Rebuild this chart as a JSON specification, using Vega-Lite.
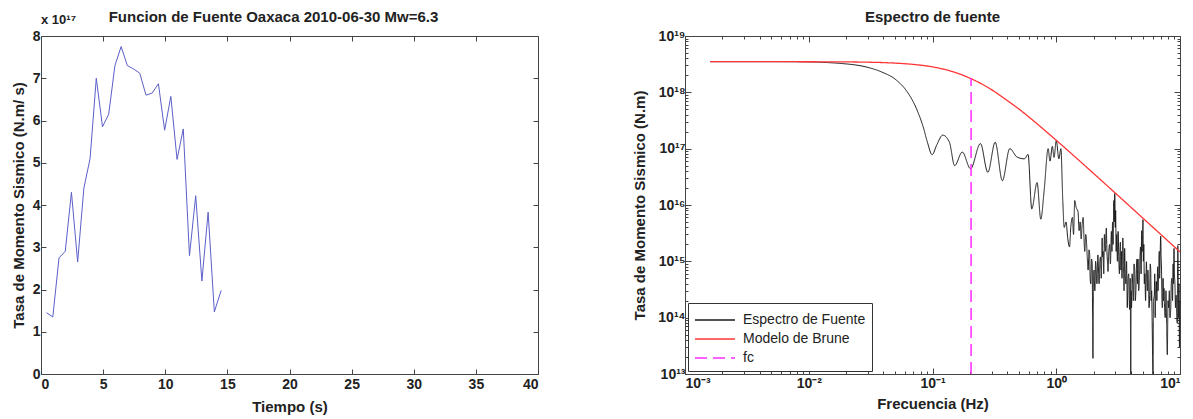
{
  "$schema": "https://vega.github.io/schema/vega-lite/v6.json",
  "background": "white",
  "padding": {"left": 10, "top": 9, "right": 8, "bottom": 0},
  "spacing": 93,
  "resolve": {"scale": {"color": "independent", "strokeDash": "independent"}, "legend": {"color": "independent", "strokeDash": "independent"}},
  "config": {
    "font": "Liberation Sans",
    "view": {"stroke": "#444", "strokeWidth": 1},
    "axis": {
      "labelFont": "Liberation Sans", "labelFontSize": 14, "labelFontWeight": "bold", "labelColor": "#222",
      "titleFont": "Liberation Sans", "titleFontSize": 15, "titleFontWeight": "bold", "titleColor": "#222",
      "domainColor": "#444", "tickColor": "#444", "tickSize": -5, "grid": false, "labelPadding": 8
    },
    "title": {"font": "Liberation Sans", "fontSize": 15, "fontWeight": "bold", "color": "#222", "offset": 0}
  },
  "datasets": {
    "stf": [
      {"t": 0.45, "v": 1.45e17}, {"t": 0.95, "v": 1.35e17}, {"t": 1.45, "v": 2.75e17}, {"t": 1.95, "v": 2.9e17},
      {"t": 2.45, "v": 4.3e17}, {"t": 2.95, "v": 2.65e17}, {"t": 3.45, "v": 4.4e17}, {"t": 3.95, "v": 5.1e17},
      {"t": 4.45, "v": 7.0e17}, {"t": 4.95, "v": 5.85e17}, {"t": 5.45, "v": 6.15e17}, {"t": 5.95, "v": 7.3e17},
      {"t": 6.45, "v": 7.75e17}, {"t": 6.95, "v": 7.3e17}, {"t": 7.45, "v": 7.22e17}, {"t": 7.95, "v": 7.12e17},
      {"t": 8.45, "v": 6.6e17}, {"t": 8.95, "v": 6.65e17}, {"t": 9.45, "v": 6.87e17}, {"t": 9.95, "v": 5.77e17},
      {"t": 10.45, "v": 6.57e17}, {"t": 10.95, "v": 5.08e17}, {"t": 11.45, "v": 5.8e17}, {"t": 11.95, "v": 2.8e17},
      {"t": 12.45, "v": 4.22e17}, {"t": 12.95, "v": 2.2e17}, {"t": 13.45, "v": 3.83e17}, {"t": 13.95, "v": 1.47e17},
      {"t": 14.5, "v": 1.98e17}
    ],
    "spec": [
      {"f": 0.0016, "A": 3.5e18}, {"f": 0.003, "A": 3.5e18}, {"f": 0.005, "A": 3.5e18}, {"f": 0.0087, "A": 3.48e18},
      {"f": 0.0183, "A": 3.25e18}, {"f": 0.0295, "A": 2.8e18}, {"f": 0.0388, "A": 2.3e18}, {"f": 0.051, "A": 1.65e18},
      {"f": 0.0625, "A": 1.02e18}, {"f": 0.074, "A": 5.2e17}, {"f": 0.085, "A": 2.25e17}, {"f": 0.091, "A": 1.3e17},
      {"f": 0.0994, "A": 7.8e16}, {"f": 0.108, "A": 1.15e17}, {"f": 0.121, "A": 1.74e17}, {"f": 0.137, "A": 1.3e17},
      {"f": 0.151, "A": 5.0e16}, {"f": 0.174, "A": 8.7e16}, {"f": 0.203, "A": 4.4e16}, {"f": 0.244, "A": 1.23e17},
      {"f": 0.28, "A": 3.8e16}, {"f": 0.321, "A": 1.3e17}, {"f": 0.367, "A": 2.7e16}, {"f": 0.421, "A": 1.0e17},
      {"f": 0.482, "A": 7.1e16}, {"f": 0.553, "A": 6.6e16}, {"f": 0.592, "A": 7.9e16}, {"f": 0.634, "A": 8.5e15},
      {"f": 0.70, "A": 2.5e16}, {"f": 0.75, "A": 5.6e15}, {"f": 0.80, "A": 1.9e16}, {"f": 0.86, "A": 1.0e17},
      {"f": 0.89, "A": 6e16}, {"f": 0.93, "A": 1.1e17}, {"f": 0.96, "A": 7e16}, {"f": 1.0, "A": 1.4e17},
      {"f": 1.05, "A": 6.6e16}, {"f": 1.09, "A": 1.0e17}, {"f": 1.13, "A": 1.15e16}, {"f": 1.16, "A": 4e15},
      {"f": 1.2, "A": 5e15}, {"f": 1.24, "A": 2.5e15}, {"f": 1.28, "A": 1.8e15}, {"f": 1.31, "A": 4e15},
      {"f": 1.35, "A": 6e15}, {"f": 1.38, "A": 3e15}, {"f": 1.41, "A": 1.2e16}, {"f": 1.45, "A": 9e15},
      {"f": 1.5, "A": 7.6e15}, {"f": 1.53, "A": 3.5e15}, {"f": 1.56, "A": 5e15}, {"f": 1.59, "A": 2.5e15},
      {"f": 1.62, "A": 4.5e15}, {"f": 1.65, "A": 6e15}, {"f": 1.68, "A": 2.2e15}, {"f": 1.70, "A": 1.5e15},
      {"f": 1.73, "A": 3e15}, {"f": 1.75, "A": 2.5e15}, {"f": 1.78, "A": 1.2e15}, {"f": 1.81, "A": 7e14},
      {"f": 1.84, "A": 1.6e15}, {"f": 1.86, "A": 1.4e15}, {"f": 1.88, "A": 5e14}, {"f": 1.9, "A": 4e14},
      {"f": 1.93, "A": 1.1e15}, {"f": 1.95, "A": 9e14}, {"f": 1.98, "A": 1.9e13}, {"f": 2.0, "A": 5e14},
      {"f": 2.02, "A": 7e14}, {"f": 2.05, "A": 3e14}, {"f": 2.08, "A": 1e15}, {"f": 2.1, "A": 8e14},
      {"f": 2.13, "A": 4e14}, {"f": 2.17, "A": 1.3e15}, {"f": 2.2, "A": 6e14}, {"f": 2.22, "A": 4e14},
      {"f": 2.25, "A": 1e15}, {"f": 2.28, "A": 1.2e15}, {"f": 2.31, "A": 5e14}, {"f": 2.35, "A": 2.6e15},
      {"f": 2.37, "A": 1.2e15}, {"f": 2.39, "A": 1.5e15}, {"f": 2.42, "A": 6e14}, {"f": 2.45, "A": 3.0e15},
      {"f": 2.49, "A": 1.5e15}, {"f": 2.54, "A": 3.9e15}, {"f": 2.56, "A": 2e15}, {"f": 2.58, "A": 1.2e15},
      {"f": 2.6, "A": 9e14}, {"f": 2.62, "A": 6.6e14}, {"f": 2.66, "A": 1.5e15}, {"f": 2.7, "A": 2.0e15},
      {"f": 2.74, "A": 9e14}, {"f": 2.79, "A": 3.4e15}, {"f": 2.82, "A": 1.5e15}, {"f": 2.85, "A": 5e15},
      {"f": 2.88, "A": 2e15}, {"f": 2.92, "A": 1.2e16}, {"f": 2.95, "A": 5e15}, {"f": 2.97, "A": 1.6e16},
      {"f": 3.0, "A": 4e15}, {"f": 3.02, "A": 8e15}, {"f": 3.05, "A": 1.5e15}, {"f": 3.08, "A": 3e15},
      {"f": 3.12, "A": 1e15}, {"f": 3.16, "A": 3.4e15}, {"f": 3.2, "A": 1.2e15}, {"f": 3.24, "A": 6e14},
      {"f": 3.27, "A": 1.5e15}, {"f": 3.3, "A": 2.2e15}, {"f": 3.33, "A": 7e14}, {"f": 3.36, "A": 1.5e15},
      {"f": 3.4, "A": 5e14}, {"f": 3.45, "A": 2.6e15}, {"f": 3.5, "A": 8e14}, {"f": 3.53, "A": 3e14},
      {"f": 3.57, "A": 1.7e15}, {"f": 3.61, "A": 6e14}, {"f": 3.65, "A": 4e14}, {"f": 3.7, "A": 1e15},
      {"f": 3.75, "A": 1.5e14}, {"f": 3.8, "A": 5e14}, {"f": 3.85, "A": 6e14}, {"f": 3.88, "A": 2.5e14},
      {"f": 3.92, "A": 1.4e14}, {"f": 3.96, "A": 5e14}, {"f": 4.0, "A": 1.0e13}, {"f": 4.03, "A": 3e14},
      {"f": 4.06, "A": 1.5e14}, {"f": 4.1, "A": 6e14}, {"f": 4.15, "A": 4e14}, {"f": 4.2, "A": 2e14},
      {"f": 4.25, "A": 9e14}, {"f": 4.3, "A": 7.4e14}, {"f": 4.35, "A": 2e14}, {"f": 4.4, "A": 3e14},
      {"f": 4.45, "A": 8e14}, {"f": 4.5, "A": 1.1e15}, {"f": 4.54, "A": 4e14}, {"f": 4.58, "A": 1.1e15},
      {"f": 4.63, "A": 3e14}, {"f": 4.7, "A": 5e14}, {"f": 4.75, "A": 1.2e15}, {"f": 4.8, "A": 1.8e15},
      {"f": 4.85, "A": 6e14}, {"f": 4.9, "A": 3.5e15}, {"f": 4.95, "A": 1.5e15}, {"f": 5.02, "A": 5.5e15},
      {"f": 5.06, "A": 1e15}, {"f": 5.1, "A": 2e15}, {"f": 5.15, "A": 4e14}, {"f": 5.2, "A": 6e14},
      {"f": 5.27, "A": 2e14}, {"f": 5.35, "A": 9.8e14}, {"f": 5.4, "A": 5e14}, {"f": 5.45, "A": 3e14},
      {"f": 5.5, "A": 7e14}, {"f": 5.55, "A": 5e14}, {"f": 5.62, "A": 1.5e14}, {"f": 5.69, "A": 2.5e14},
      {"f": 5.75, "A": 9e14}, {"f": 5.8, "A": 7e14}, {"f": 5.85, "A": 2e14}, {"f": 5.9, "A": 3e14},
      {"f": 5.95, "A": 1e14}, {"f": 6.05, "A": 1.0e13}, {"f": 6.1, "A": 2e14}, {"f": 6.2, "A": 2.5e14},
      {"f": 6.25, "A": 6e14}, {"f": 6.3, "A": 1e14}, {"f": 6.37, "A": 3e14}, {"f": 6.44, "A": 4.4e14},
      {"f": 6.5, "A": 2e14}, {"f": 6.6, "A": 8e14}, {"f": 6.65, "A": 3e14}, {"f": 6.72, "A": 6e14},
      {"f": 6.8, "A": 1.5e15}, {"f": 6.85, "A": 5e14}, {"f": 6.9, "A": 1e15}, {"f": 6.98, "A": 2.8e15},
      {"f": 7.04, "A": 1.2e15}, {"f": 7.1, "A": 6e14}, {"f": 7.15, "A": 2e14}, {"f": 7.2, "A": 1.5e14},
      {"f": 7.3, "A": 5e14}, {"f": 7.36, "A": 2e14}, {"f": 7.43, "A": 3.3e14}, {"f": 7.5, "A": 1.5e14},
      {"f": 7.6, "A": 1e14}, {"f": 7.7, "A": 3e14}, {"f": 7.8, "A": 8e13}, {"f": 7.9, "A": 2.2e13},
      {"f": 8.0, "A": 2e14}, {"f": 8.1, "A": 1.5e14}, {"f": 8.2, "A": 3e14}, {"f": 8.3, "A": 1e14},
      {"f": 8.41, "A": 1.4e14}, {"f": 8.5, "A": 4e14}, {"f": 8.6, "A": 5e14}, {"f": 8.7, "A": 2e14},
      {"f": 8.8, "A": 9e14}, {"f": 8.87, "A": 4e14}, {"f": 8.95, "A": 1.7e15}, {"f": 9.02, "A": 6e14},
      {"f": 9.1, "A": 4e14}, {"f": 9.2, "A": 1.5e14}, {"f": 9.3, "A": 2.5e14}, {"f": 9.4, "A": 1.2e14},
      {"f": 9.5, "A": 8e13}, {"f": 9.55, "A": 5e14}, {"f": 9.6, "A": 1.9e15}, {"f": 9.68, "A": 5e14},
      {"f": 9.75, "A": 1e14}, {"f": 9.82, "A": 4e14}, {"f": 9.9, "A": 3e13}, {"f": 9.95, "A": 1.5e14},
      {"f": 10, "A": 2e14}
    ],
    "brune": [
      {"f": 0.0016, "A": 3.5e18}, {"f": 0.005, "A": 3.5e18}, {"f": 0.01, "A": 3.49e18}, {"f": 0.02, "A": 3.467e18},
      {"f": 0.03, "A": 3.43e18}, {"f": 0.05, "A": 3.3e18}, {"f": 0.07, "A": 3.13e18}, {"f": 0.1, "A": 2.83e18},
      {"f": 0.15, "A": 2.28e18}, {"f": 0.2, "A": 1.79e18}, {"f": 0.3, "A": 1.115e18}, {"f": 0.4, "A": 7.2e17},
      {"f": 0.5, "A": 5.04e17}, {"f": 0.7, "A": 2.76e17}, {"f": 1.0, "A": 1.41e17}, {"f": 1.5, "A": 6.42e16},
      {"f": 2.0, "A": 3.64e16}, {"f": 3.0, "A": 1.63e16}, {"f": 5.0, "A": 5.87e15}, {"f": 7.0, "A": 3.0e15},
      {"f": 10.0, "A": 1.47e15}
    ],
    "fc": [{"f": 0.205, "A": 1e13, "A2": 1.8e18}]
  },
  "hconcat": [
    {
      "width": 497,
      "height": 338,
      "title": {"text": "Funcion de Fuente Oaxaca 2010-06-30 Mw=6.3", "dx": -16, "offset": -11},
      "data": {"name": "stf"},
      "layer": [
        {
          "mark": {"type": "line", "color": "#5b5fc8", "strokeWidth": 1},
          "encoding": {
            "x": {"field": "t", "type": "quantitative", "scale": {"domain": [0, 40], "nice": false},
                  "axis": {"title": "Tiempo (s)", "values": [0, 5, 10, 15, 20, 25, 30, 35, 40], "titlePadding": 8}},
            "y": {"field": "v", "type": "quantitative", "scale": {"domain": [0, 8e17], "nice": false},
                  "axis": {"title": "Tasa de Momento Sismico (N.m/ s)", "values": [0, 1e17, 2e17, 3e17, 4e17, 5e17, 6e17, 7e17, 8e17],
                           "labelExpr": "format(datum.value / 1e17, 'd')", "titlePadding": 6, "labelPadding": 6}}
          }
        },
        {
          "mark": {"type": "line", "opacity": 0},
          "encoding": {
            "x": {"field": "t", "type": "quantitative", "scale": {"domain": [0, 40], "nice": false},
                  "axis": {"orient": "top", "title": null, "labels": false, "domain": false, "values": [0, 5, 10, 15, 20, 25, 30, 35, 40]}},
            "y": {"field": "v", "type": "quantitative", "scale": {"domain": [0, 8e17], "nice": false},
                  "axis": {"orient": "right", "title": null, "labels": false, "domain": false, "values": [0, 1e17, 2e17, 3e17, 4e17, 5e17, 6e17, 7e17, 8e17]}}
          }
        },
        {
          "data": {"values": [{"label": "x 10¹⁷"}]},
          "mark": {"type": "text", "align": "left", "baseline": "bottom", "dy": -9, "fontSize": 13, "fontWeight": "bold", "color": "#222", "font": "Liberation Sans"},
          "encoding": {
            "x": {"datum": 0, "type": "quantitative", "scale": {"domain": [0, 40], "nice": false}, "axis": null},
            "y": {"datum": 8e17, "type": "quantitative", "scale": {"domain": [0, 8e17], "nice": false}, "axis": null},
            "text": {"field": "label"}
          }
        }
      ],
      "resolve": {"axis": {"x": "independent", "y": "independent"}}
    },
    {
      "width": 495,
      "height": 338,
      "title": {"text": "Espectro de fuente", "offset": 4},
      "layer": [
        {
          "encoding": {
            "x": {"field": "f", "type": "quantitative",
                  "scale": {"type": "log", "domain": [0.001, 10], "nice": false},
                  "axis": {"title": "Frecuencia (Hz)", "titlePadding": 6,
                           "values": [0.001, 0.002, 0.003, 0.004, 0.005, 0.006, 0.007, 0.008, 0.009, 0.01, 0.02, 0.03, 0.04, 0.05, 0.06, 0.07, 0.08, 0.09, 0.1, 0.2, 0.3, 0.4, 0.5, 0.6, 0.7, 0.8, 0.9, 1, 2, 3, 4, 5, 6, 7, 8, 9, 10],
                           "labelExpr": "datum.value == 0.001 ? '10⁻³' : datum.value == 0.01 ? '10⁻²' : datum.value == 0.1 ? '10⁻¹' : datum.value == 1 ? '10⁰' : datum.value == 10 ? '10¹' : ''",
                           "tickSize": {"condition": {"test": "indexof([0.001,0.01,0.1,1,10], datum.value) >= 0", "value": -6}, "value": -3}}},
            "y": {"field": "A", "type": "quantitative",
                  "scale": {"type": "log", "domain": [1e13, 1e19], "nice": false},
                  "axis": {"title": "Tasa de Momento Sismico (N.m)", "titlePadding": 10, "labelPadding": 6,
                           "values": [1e13, 2e13, 3e13, 4e13, 5e13, 6e13, 7e13, 8e13, 9e13, 1e14, 2e14, 3e14, 4e14, 5e14, 6e14, 7e14, 8e14, 9e14, 1e15, 2e15, 3e15, 4e15, 5e15, 6e15, 7e15, 8e15, 9e15, 1e16, 2e16, 3e16, 4e16, 5e16, 6e16, 7e16, 8e16, 9e16, 1e17, 2e17, 3e17, 4e17, 5e17, 6e17, 7e17, 8e17, 9e17, 1e18, 2e18, 3e18, 4e18, 5e18, 6e18, 7e18, 8e18, 9e18, 1e19],
                           "labelExpr": "datum.value == 1e13 ? '10¹³' : datum.value == 1e14 ? '10¹⁴' : datum.value == 1e15 ? '10¹⁵' : datum.value == 1e16 ? '10¹⁶' : datum.value == 1e17 ? '10¹⁷' : datum.value == 1e18 ? '10¹⁸' : datum.value == 1e19 ? '10¹⁹' : ''",
                           "tickSize": {"condition": {"test": "indexof([1e13,1e14,1e15,1e16,1e17,1e18,1e19], datum.value) >= 0", "value": -6}, "value": -3}}}
          },
          "layer": [
            {
              "data": {"name": "spec"},
              "transform": [{"calculate": "'Espectro de Fuente'", "as": "serie"}],
              "mark": {"type": "line", "strokeWidth": 1, "interpolate": "monotone"},
              "encoding": {
                "color": {"field": "serie", "type": "nominal"},
                "strokeDash": {"field": "serie", "type": "nominal"}
              }
            },
            {
              "data": {"name": "brune"},
              "transform": [{"calculate": "'Modelo de Brune'", "as": "serie"}],
              "mark": {"type": "line", "strokeWidth": 1.3, "interpolate": "monotone"},
              "encoding": {
                "color": {"field": "serie", "type": "nominal"},
                "strokeDash": {"field": "serie", "type": "nominal"}
              }
            },
            {
              "data": {"name": "fc"},
              "transform": [{"calculate": "'fc'", "as": "serie"}],
              "mark": {"type": "rule", "strokeWidth": 1.5},
              "encoding": {
                "y2": {"field": "A2"},
                "color": {"field": "serie", "type": "nominal",
                          "scale": {"domain": ["Espectro de Fuente", "Modelo de Brune", "fc"], "range": ["#1a1a1a", "#ff3535", "#ff2cff"]},
                          "legend": {"title": null, "orient": "bottom-left", "offset": 3, "strokeColor": "#333", "fillColor": "white", "padding": 6,
                                     "symbolType": "M-1,0H3", "symbolSize": 400, "symbolStrokeWidth": 1.5, "labelFontSize": 14, "labelFont": "Liberation Sans",
                                     "labelColor": "#222", "rowPadding": 1, "labelOffset": 27}},
                "strokeDash": {"field": "serie", "type": "nominal",
                               "scale": {"domain": ["Espectro de Fuente", "Modelo de Brune", "fc"], "range": [[1, 0], [1, 0], [12, 6]]},
                               "legend": {"title": null, "orient": "bottom-left", "offset": 3, "strokeColor": "#333", "fillColor": "white", "padding": 6,
                                          "symbolType": "M-1,0H3", "symbolSize": 400, "symbolStrokeWidth": 1.5, "labelFontSize": 14, "labelFont": "Liberation Sans",
                                          "labelColor": "#222", "rowPadding": 1, "labelOffset": 27}}
              }
            }
          ]
        },
        {
          "data": {"name": "brune"},
          "mark": {"type": "line", "opacity": 0},
          "encoding": {
            "x": {"field": "f", "type": "quantitative",
                  "scale": {"type": "log", "domain": [0.001, 10], "nice": false},
                  "axis": {"orient": "top", "title": null, "labels": false, "domain": false,
                           "values": [0.001, 0.002, 0.003, 0.004, 0.005, 0.006, 0.007, 0.008, 0.009, 0.01, 0.02, 0.03, 0.04, 0.05, 0.06, 0.07, 0.08, 0.09, 0.1, 0.2, 0.3, 0.4, 0.5, 0.6, 0.7, 0.8, 0.9, 1, 2, 3, 4, 5, 6, 7, 8, 9, 10],
                           "tickSize": {"condition": {"test": "indexof([0.001,0.01,0.1,1,10], datum.value) >= 0", "value": -6}, "value": -3}}},
            "y": {"field": "A", "type": "quantitative",
                  "scale": {"type": "log", "domain": [1e13, 1e19], "nice": false},
                  "axis": {"orient": "right", "title": null, "labels": false, "domain": false,
                           "values": [1e13, 2e13, 3e13, 4e13, 5e13, 6e13, 7e13, 8e13, 9e13, 1e14, 2e14, 3e14, 4e14, 5e14, 6e14, 7e14, 8e14, 9e14, 1e15, 2e15, 3e15, 4e15, 5e15, 6e15, 7e15, 8e15, 9e15, 1e16, 2e16, 3e16, 4e16, 5e16, 6e16, 7e16, 8e16, 9e16, 1e17, 2e17, 3e17, 4e17, 5e17, 6e17, 7e17, 8e17, 9e17, 1e18, 2e18, 3e18, 4e18, 5e18, 6e18, 7e18, 8e18, 9e18, 1e19],
                           "tickSize": {"condition": {"test": "indexof([1e13,1e14,1e15,1e16,1e17,1e18,1e19], datum.value) >= 0", "value": -6}, "value": -3}}}
          }
        }
      ],
      "resolve": {"axis": {"x": "independent", "y": "independent"}}
    }
  ]
}
